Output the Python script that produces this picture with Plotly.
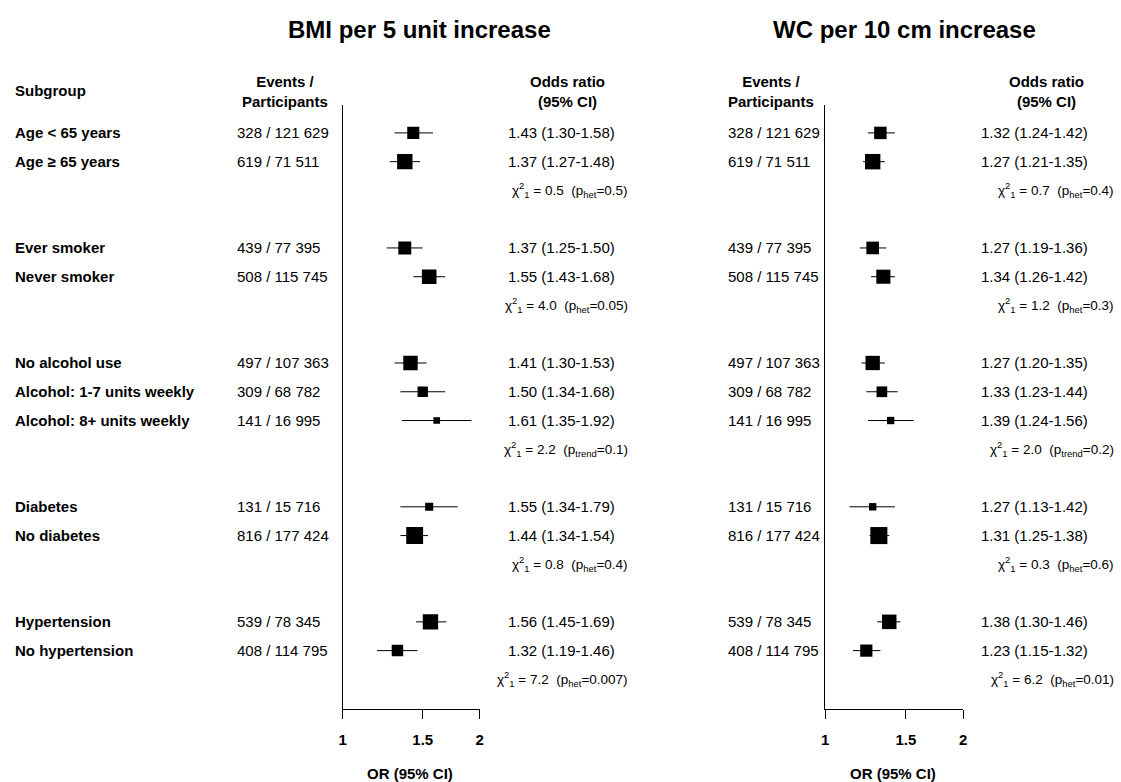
import math
import plotly.graph_objects as go

# ---------------- data ----------------
subgroups = ["Age < 65 years", "Age \u2265 65 years",
             "Ever smoker", "Never smoker",
             "No alcohol use", "Alcohol: 1-7 units weekly", "Alcohol: 8+ units weekly",
             "Diabetes", "No diabetes",
             "Hypertension", "No hypertension"]
group_sizes = [2, 2, 3, 2, 2]
events = [328, 619, 439, 508, 497, 309, 141, 131, 816, 539, 408]
participants = [121629, 71511, 77395, 115745, 107363, 68782, 16995, 15716, 177424, 78345, 114795]

bmi_or = [1.43, 1.37, 1.37, 1.55, 1.41, 1.50, 1.61, 1.55, 1.44, 1.56, 1.32]
bmi_lo = [1.30, 1.27, 1.25, 1.43, 1.30, 1.34, 1.35, 1.34, 1.34, 1.45, 1.19]
bmi_hi = [1.58, 1.48, 1.50, 1.68, 1.53, 1.68, 1.92, 1.79, 1.54, 1.69, 1.46]

wc_or = [1.32, 1.27, 1.27, 1.34, 1.27, 1.33, 1.39, 1.27, 1.31, 1.38, 1.23]
wc_lo = [1.24, 1.21, 1.19, 1.26, 1.20, 1.23, 1.24, 1.13, 1.25, 1.30, 1.15]
wc_hi = [1.42, 1.35, 1.36, 1.42, 1.35, 1.44, 1.56, 1.42, 1.38, 1.46, 1.32]

test_type = ["het", "het", "trend", "het", "het"]
bmi_chi = ["0.5", "4.0", "2.2", "0.8", "7.2"]
bmi_p = ["0.5", "0.05", "0.1", "0.4", "0.007"]
wc_chi = ["0.7", "1.2", "2.0", "0.3", "6.2"]
wc_p = ["0.4", "0.3", "0.2", "0.6", "0.01"]

tick_vals = [1, 1.5, 2]
tick_text = ["1", "1.5", "2"]
titles = ["BMI per 5 unit increase", "WC per 10 cm increase"]

# ---------------- layout helpers ----------------
W, H = 1121, 782
TOP, BOT = 105, 73
PLOT_H = H - TOP - BOT
FONT = "Liberation Sans, Arial, sans-serif"

rows, chi_rows = [], []
r = 0
for g in group_sizes:
    for _ in range(g):
        rows.append(r)
        r += 1
    chi_rows.append(r)
    r += 2

def px(x):
    return x / W

def py(y):
    return (H - BOT - y) / PLOT_H

def fmt_n(n):
    return f"{n:,}".replace(",", " ")

def ci_text(o, l, h):
    return f"{o:.2f} ({l:.2f}-{h:.2f})"

def sizes(lo, hi, k):
    out = []
    for l, h in zip(lo, hi):
        se = (math.log(h) - math.log(l)) / (2 * 1.96)
        out.append(k / se)
    return out

fig = go.Figure()

panels = [
    dict(or_=bmi_or, lo=bmi_lo, hi=bmi_hi, chi=bmi_chi, p=bmi_p, k=0.60,
         xa="x", ya="y", dom=(341, 479), ev_x=233, ev_c=283, or_x=506, or_c=568, chi_x=631,
         title_c=418),
    dict(or_=wc_or, lo=wc_lo, hi=wc_hi, chi=wc_chi, p=wc_p, k=0.43,
         xa="x2", ya="y2", dom=(827, 966), ev_x=727, ev_c=773, or_x=982, or_c=1050, chi_x=1120,
         title_c=907),
]

TXT = dict(size=15, family=FONT, color="#000000")
ann = []
for i, pn in enumerate(panels):
    fig.add_trace(go.Scatter(
        x=pn["or_"], y=rows, mode="markers", opacity=1,
        marker=dict(symbol="square", color="#000000", opacity=1,
                    size=sizes(pn["lo"], pn["hi"], pn["k"]), line=dict(width=0)),
        error_x=dict(type="data", symmetric=False,
                     array=[h - o for o, h in zip(pn["or_"], pn["hi"])],
                     arrayminus=[o - l for o, l in zip(pn["or_"], pn["lo"])],
                     color="#000000", thickness=1, width=0),
        xaxis=pn["xa"], yaxis=pn["ya"], showlegend=False, hoverinfo="skip",
    ))
    ann.append(dict(text="<b>Events /</b><br><b>Participants</b>", x=px(pn["ev_c"]), y=py(91),
                    xref="paper", yref="paper", xanchor="center", yanchor="middle",
                    showarrow=False, font=TXT))
    ann.append(dict(text="<b>Odds ratio</b><br><b>(95% CI)</b>", x=px(pn["or_c"]), y=py(91),
                    xref="paper", yref="paper", xanchor="center", yanchor="middle",
                    showarrow=False, font=TXT))
    for j, rr in enumerate(rows):
        ann.append(dict(text=f"{events[j]} / {fmt_n(participants[j])}", x=px(pn["ev_x"]), y=rr,
                        xref="paper", yref="y", xanchor="left", yanchor="middle",
                        showarrow=False, font=TXT))
        ann.append(dict(text=ci_text(pn["or_"][j], pn["lo"][j], pn["hi"][j]), x=px(pn["or_x"]), y=rr,
                        xref="paper", yref="y", xanchor="left", yanchor="middle",
                        showarrow=False, font=TXT))
    for j, rr in enumerate(chi_rows):
        t = (f"\u03c7<sup>2</sup><sub>1</sub> = {pn['chi'][j]}\u00a0\u00a0"
             f"(p<sub>{test_type[j]}</sub>={pn['p'][j]})")
        ann.append(dict(text=t, x=px(pn["chi_x"]), y=rr,
                        xref="paper", yref="y", xanchor="right", yanchor="middle",
                        showarrow=False, font=dict(size=13.5, family=FONT, color="#000000")))
    ann.append(dict(text=f"<b>{titles[i]}</b>", x=px(pn["title_c"]), y=py(29),
                    xref="paper", yref="paper", xanchor="center", yanchor="middle",
                    showarrow=False, font=dict(size=24, family=FONT, color="#000000")))
    ann.append(dict(text="<b>OR (95% CI)</b>", x=px((pn["dom"][0] + pn["dom"][1]) / 2 - 1), y=py(773),
                    xref="paper", yref="paper", xanchor="center", yanchor="middle",
                    showarrow=False, font=TXT))

ann.append(dict(text="<b>Subgroup</b>", x=px(9), y=py(90), xref="paper", yref="paper",
                xanchor="left", yanchor="middle", showarrow=False, font=TXT))
for j, rr in enumerate(rows):
    ann.append(dict(text=f"<b>{subgroups[j]}</b>", x=px(9), y=rr, xref="paper", yref="y",
                    xanchor="left", yanchor="middle", showarrow=False, font=TXT))

axis_common = dict(type="log", range=[0, math.log10(2)], showline=True, linecolor="#000000",
                   linewidth=1, ticks="outside", ticklen=9, tickcolor="#000000", tickwidth=1,
                   tickvals=tick_vals, ticktext=[f"<b>{t}</b>" for t in tick_text],
                   tickfont=TXT, showgrid=False,
                   zeroline=False, ticklabelstandoff=8, fixedrange=True)
yaxis_common = dict(range=[20.03, -0.97], autorange=False, showline=True, linecolor="#000000",
                    linewidth=1, showticklabels=False, ticks="", showgrid=False, zeroline=False,
                    fixedrange=True)

fig.update_layout(
    width=W, height=H,
    margin=dict(l=0, r=0, t=TOP, b=BOT),
    paper_bgcolor="white", plot_bgcolor="white",
    xaxis=dict(domain=[px(341), px(479)], anchor="y", **axis_common),
    xaxis2=dict(domain=[px(827), px(966)], anchor="y2", **axis_common),
    yaxis=dict(anchor="x", **yaxis_common),
    yaxis2=dict(anchor="x2", **yaxis_common),
    annotations=ann,
    font=dict(family=FONT, color="#000000"),
)

fig.write_html("out.html",
               post_script="document.body.style.margin='0';document.body.style.overflow='hidden';",
               config={"displayModeBar": False})
